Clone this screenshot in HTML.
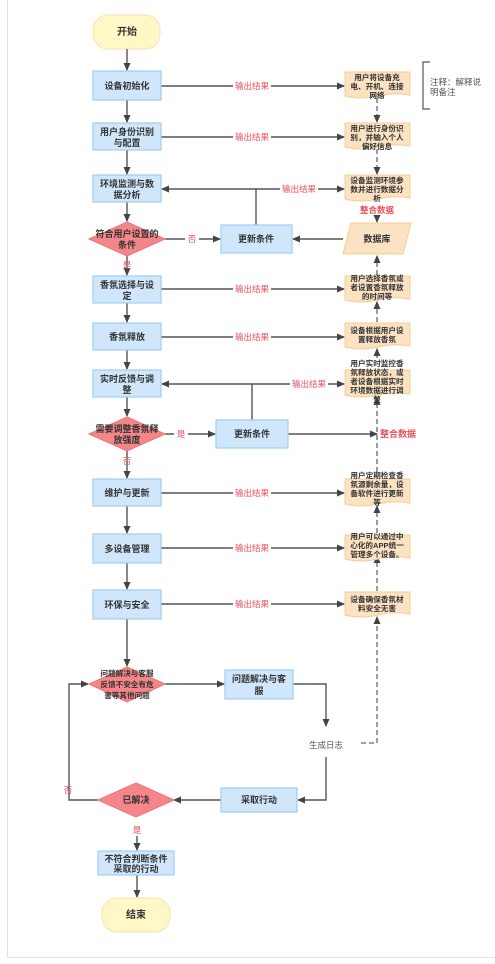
<!DOCTYPE html>
<html><head><meta charset="utf-8"><style>
html,body{margin:0;padding:0;background:#fff;width:495px;height:964px;overflow:hidden}
svg{display:block}
text{font-family:"Liberation Sans","Noto Sans CJK SC",sans-serif}
.t{font-size:9px;font-weight:bold;fill:#333;text-anchor:middle}
.d{font-size:7.6px;font-weight:bold;fill:#333;text-anchor:middle}
.r{font-size:8.5px;fill:#e8505b;text-anchor:middle}
.p{fill:#cfe6fb;stroke:#9fcdf5;stroke-width:1.2}
.dm{fill:#f4868a;stroke:#ee7176;stroke-width:1}
.doc{fill:#fbe2c3;stroke:#f6cc93;stroke-width:1}
.l{stroke:#555;stroke-width:1.4;fill:none}
.ds{stroke:#666;stroke-width:1.3;fill:none;stroke-dasharray:5,3}
</style></head><body>
<svg width="495" height="964" viewBox="0 0 495 964">
<defs><marker id="a" markerWidth="8" markerHeight="8" refX="7" refY="4" orient="auto" markerUnits="userSpaceOnUse"><path d="M0,0.5 L8,4 L0,7.5z" fill="#444"/></marker></defs>
<path d="M7.5,0 V957.5 H495" stroke="#e2e2e2" fill="none"/>
<!-- start -->
<rect x="93" y="15" width="67" height="34" rx="15" fill="#fff7c6" stroke="#fbe1b4"/>
<text class="t" x="127" y="35" style="font-size:10px">开始</text>
<!-- main vertical arrows -->
<g class="l" marker-end="url(#a)">
<line x1="127" y1="49" x2="127" y2="70"/>
<line x1="127" y1="100" x2="127" y2="122"/>
<line x1="127" y1="150" x2="127" y2="174"/>
<line x1="127" y1="202" x2="127" y2="221"/>
<line x1="127" y1="256" x2="127" y2="275"/>
<line x1="127" y1="303" x2="127" y2="322"/>
<line x1="127" y1="350" x2="127" y2="369"/>
<line x1="127" y1="397" x2="127" y2="416"/>
<line x1="127" y1="451" x2="127" y2="478"/>
<line x1="127" y1="506" x2="127" y2="533"/>
<line x1="127" y1="563" x2="127" y2="589"/>
<line x1="127" y1="619" x2="127" y2="666"/>
<line x1="137" y1="836" x2="137" y2="850"/>
<line x1="137" y1="875" x2="137" y2="897"/>
</g>
<!-- horizontal output arrows -->
<g class="l" marker-end="url(#a)">
<line x1="161" y1="86" x2="344" y2="86"/>
<line x1="161" y1="137" x2="344" y2="137"/>
<line x1="161" y1="289" x2="344" y2="289"/>
<line x1="161" y1="337" x2="344" y2="337"/>
<line x1="161" y1="493" x2="344" y2="493"/>
<line x1="161" y1="548" x2="344" y2="548"/>
<line x1="161" y1="604" x2="344" y2="604"/>
<line x1="256" y1="189" x2="344" y2="189"/>
<line x1="256" y1="189" x2="162" y2="189"/>
<line x1="252" y1="384" x2="344" y2="384"/>
<line x1="252" y1="384" x2="162" y2="384"/>
<line x1="165" y1="239" x2="220" y2="239"/>
<line x1="343" y1="239" x2="293" y2="239"/>
<line x1="165" y1="434" x2="215" y2="434"/>
<line x1="288" y1="434" x2="377" y2="434"/>
<line x1="165" y1="684" x2="224" y2="684"/>
<path d="M293,684 H326 V726"/>
<path d="M326,757 V800 H298"/>
<path d="M221,800 H174"/>
<path d="M98,800 H69 V684 H88"/>
</g>
<line class="l" x1="256" y1="225" x2="256" y2="189"/>
<line class="l" x1="252" y1="420" x2="252" y2="384"/>
<!-- dashed -->
<g class="ds" marker-end="url(#a)">
<line x1="377" y1="98" x2="377" y2="122"/>
<line x1="377" y1="149" x2="377" y2="174"/>
<line x1="377" y1="218" x2="377" y2="222"/>
<line x1="377" y1="275" x2="377" y2="256"/>
<line x1="377" y1="322" x2="377" y2="302"/>
<line x1="377" y1="358" x2="377" y2="349"/>
<line x1="377" y1="472" x2="377" y2="398"/>
<line x1="377" y1="533" x2="377" y2="506"/>
<line x1="377" y1="591" x2="377" y2="556"/>
<path d="M361,743 H377 V617"/>
</g>
<!-- labels on lines -->
<g>
<rect x="233" y="81" width="38" height="10" fill="#fff"/><text class="r" x="252" y="89">输出结果</text>
<rect x="233" y="132" width="38" height="10" fill="#fff"/><text class="r" x="252" y="140">输出结果</text>
<rect x="280" y="184" width="38" height="10" fill="#fff"/><text class="r" x="299" y="192">输出结果</text>
<rect x="233" y="284" width="38" height="10" fill="#fff"/><text class="r" x="252" y="292">输出结果</text>
<rect x="233" y="332" width="38" height="10" fill="#fff"/><text class="r" x="252" y="340">输出结果</text>
<rect x="290" y="379" width="38" height="10" fill="#fff"/><text class="r" x="309" y="387">输出结果</text>
<rect x="233" y="488" width="38" height="10" fill="#fff"/><text class="r" x="252" y="496">输出结果</text>
<rect x="233" y="543" width="38" height="10" fill="#fff"/><text class="r" x="252" y="551">输出结果</text>
<rect x="233" y="599" width="38" height="10" fill="#fff"/><text class="r" x="252" y="607">输出结果</text>
<rect x="185" y="234" width="14" height="10" fill="#fff"/><text class="r" x="192" y="242">否</text>
<rect x="174" y="429" width="14" height="10" fill="#fff"/><text class="r" x="181" y="437">是</text>
<text class="r" x="127" y="268">是</text>
<text class="r" x="127" y="464">否</text>
<text class="r" x="68" y="793">否</text>
<text class="r" x="137" y="833">是</text>
<text class="r" x="377" y="213" style="font-weight:bold">整合数据</text>
<text class="r" x="398" y="437" style="font-weight:bold;font-size:9px">整合数据</text>
<text x="326" y="748" style="font-size:8.5px;fill:#555;text-anchor:middle">生成日志</text>
</g>
<!-- process boxes -->
<g>
<rect class="p" x="93" y="71" width="68" height="29"/><text class="t" x="127" y="89">设备初始化</text>
<rect class="p" x="93" y="123" width="68" height="27"/><text class="t" x="127" y="135">用户身份识别</text><text class="t" x="127" y="146">与配置</text>
<rect class="p" x="93" y="175" width="68" height="27"/><text class="t" x="127" y="187">环境监测与数</text><text class="t" x="127" y="198">据分析</text>
<rect class="p" x="221" y="225" width="71" height="28"/><text class="t" x="256" y="242">更新条件</text>
<rect class="p" x="93" y="276" width="68" height="27"/><text class="t" x="127" y="288">香氛选择与设</text><text class="t" x="127" y="299">定</text>
<rect class="p" x="93" y="323" width="68" height="27"/><text class="t" x="127" y="340">香氛释放</text>
<rect class="p" x="93" y="370" width="68" height="27"/><text class="t" x="127" y="382">实时反馈与调</text><text class="t" x="127" y="393">整</text>
<rect class="p" x="216" y="420" width="72" height="28"/><text class="t" x="252" y="437">更新条件</text>
<rect class="p" x="93" y="479" width="68" height="27"/><text class="t" x="127" y="496">维护与更新</text>
<rect class="p" x="93" y="534" width="68" height="29"/><text class="t" x="127" y="552">多设备管理</text>
<rect class="p" x="93" y="590" width="68" height="29"/><text class="t" x="127" y="608">环保与安全</text>
<rect class="p" x="225" y="670" width="68" height="29"/><text class="t" x="259" y="682">问题解决与客</text><text class="t" x="259" y="694">服</text>
<rect class="p" x="221" y="788" width="76" height="24"/><text class="t" x="259" y="803">采取行动</text>
<rect class="p" x="98" y="851" width="76" height="24"/><text class="t" x="136" y="862">不符合判断条件</text><text class="t" x="136" y="872">采取的行动</text>
</g>
<!-- diamonds -->
<polygon class="dm" points="127,222 165,239 127,256 89,239"/><text class="t" x="127" y="237">符合用户设置的</text><text class="t" x="127" y="248">条件</text>
<polygon class="dm" points="127,417 165,434 127,451 89,434"/><text class="t" x="127" y="432">需要调整香氛释</text><text class="t" x="127" y="443">放强度</text>
<polygon class="dm" points="127,667 165,684 127,702 89,684"/><text class="d" x="127" y="676">问题解决与客服</text><text class="d" x="127" y="687">反馈不安全有危</text><text class="d" x="127" y="698">害等其他问题</text>
<polygon class="dm" points="136,783 174,800 136,817 98,800"/><text class="t" x="136" y="803">已解决</text>
<!-- end -->
<rect x="102" y="898" width="68" height="34" rx="15" fill="#fff7c6" stroke="#fbe1b4"/>
<text class="t" x="136" y="918" style="font-size:10px">结束</text>
<!-- database -->
<polygon points="351,223 411,223 403,254 343,254" fill="#fbe2c3" stroke="#f6cc93"/>
<text class="t" x="377" y="242">数据库</text>
<!-- docs -->
<g>
<path class="doc" d="M345,72 H410 V95 Q394,92 378,96 Q361,100 345,96 Z"/>
<text class="d" x="377" y="80">用户将设备充</text><text class="d" x="377" y="89">电、开机、连接</text><text class="d" x="377" y="98">网络</text>
<path class="doc" d="M345,123 H410 V146 Q394,143 378,147 Q361,151 345,147 Z"/>
<text class="d" x="377" y="131">用户进行身份识</text><text class="d" x="377" y="140">别，并输入个人</text><text class="d" x="377" y="149">偏好信息</text>
<path class="doc" d="M345,175 H410 V198 Q394,195 378,199 Q361,203 345,199 Z"/>
<text class="d" x="377" y="183">设备监测环境参</text><text class="d" x="377" y="192">数并进行数据分</text><text class="d" x="377" y="201">析</text>
<path class="doc" d="M345,276 H410 V299 Q394,296 378,300 Q361,304 345,300 Z"/>
<text class="d" x="377" y="281">用户选择香氛或</text><text class="d" x="377" y="290">者设置香氛释放</text><text class="d" x="377" y="299">的时间等</text>
<path class="doc" d="M345,323 H410 V346 Q394,343 378,347 Q361,351 345,347 Z"/>
<text class="d" x="377" y="333">设备根据用户设</text><text class="d" x="377" y="342">置释放香氛</text>
<path class="doc" d="M345,370 H410 V394 Q394,391 378,395 Q361,399 345,395 Z"/>
<text class="d" x="377" y="366">用户实时监控香</text><text class="d" x="377" y="375">氛释放状态，或</text><text class="d" x="377" y="384">者设备根据实时</text><text class="d" x="377" y="393">环境数据进行调</text><text class="d" x="377" y="402">整</text>
<path class="doc" d="M345,479 H410 V503 Q394,500 378,504 Q361,508 345,504 Z"/>
<text class="d" x="377" y="478">用户定期检查香</text><text class="d" x="377" y="487">氛源剩余量，设</text><text class="d" x="377" y="496">备软件进行更新</text><text class="d" x="377" y="505">等</text>
<path class="doc" d="M345,535 H410 V558 Q394,555 378,559 Q361,563 345,559 Z"/>
<text class="d" x="377" y="539">用户可以通过中</text><text class="d" x="377" y="548">心化的APP统一</text><text class="d" x="377" y="557">管理多个设备。</text>
<path class="doc" d="M345,592 H410 V614 Q394,611 378,615 Q361,619 345,615 Z"/>
<text class="d" x="377" y="602">设备确保香氛材</text><text class="d" x="377" y="611">料安全无害</text>
</g>
<!-- note -->
<path d="M430,62 H423 V109 H430" stroke="#555" stroke-width="1.2" fill="none"/>
<text x="430" y="85" style="font-size:8.5px;fill:#555">注释：解释说</text>
<text x="430" y="95" style="font-size:8.5px;fill:#555">明备注</text>
</svg>
</body></html>
